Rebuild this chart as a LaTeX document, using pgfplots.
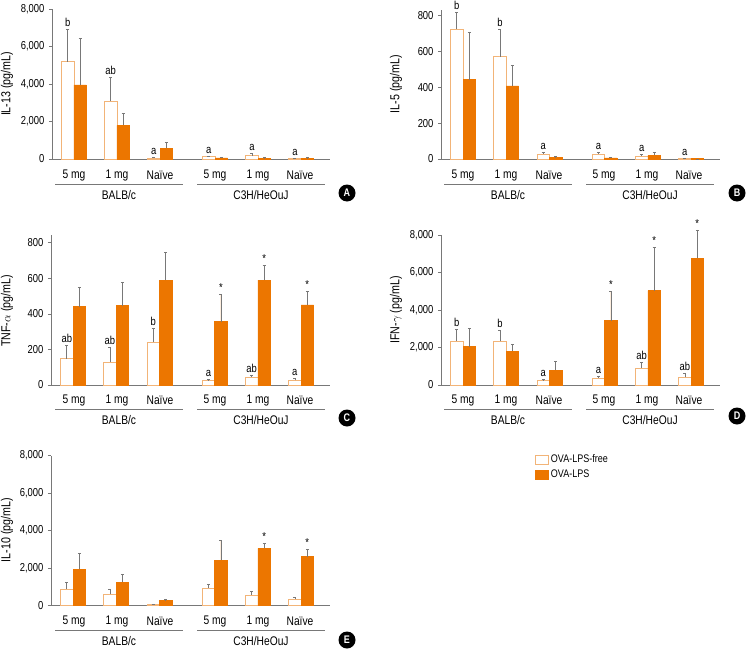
\documentclass[border=0pt]{standalone}
\usepackage{fontspec}
\setmainfont{Liberation Sans}[FakeStretch=0.82]
\usepackage{pgfplots}
\pgfplotsset{compat=1.18}
\definecolor{barorange}{RGB}{236,118,0}
\definecolor{lightorange}{RGB}{242,180,120}
\definecolor{axgray}{RGB}{120,120,120}
\pgfplotsset{
  panel/.style={
    scale only axis, ybar=0pt, bar width=12.5bp,
    xmin=0.49, xmax=6.95, ymin=0,
    axis x line*=bottom, axis y line*=left,
    axis line style={draw=axgray, line width=0.6bp, -},
    xtick=\empty,
    tick align=outside, major tick length=3bp,
    ytick style={draw=axgray, line width=0.6bp},
    tick label style={font=\fontsize{11.5bp}{13bp}\selectfont},
    yticklabel style={xshift=-1bp},
    /pgf/number format/.cd, 1000 sep={,}, assume math mode=true, /pgfplots/.cd,
    clip=false,
    error bars/y dir=plus, error bars/y explicit,
    error bars/error bar style={draw=axgray, line width=0.6bp},
    error bars/error mark options={rotate=90, mark size=1.5bp, draw=axgray, line width=0.6bp},
  },
  wbar/.style={fill=white, draw=lightorange, line width=0.7bp},
  obar/.style={fill=barorange, draw=barorange, line width=0.7bp},
}
\tikzset{lab/.style={anchor=south, inner sep=0.5bp, yshift=2bp, font=\fontsize{11.5bp}{13bp}\selectfont},
  ylab/.style={rotate=90, anchor=center, inner sep=0pt, font=\fontsize{13bp}{14bp}\selectfont}}
\newcommand{\wl}[3]{\node[lab, xshift=-6.25bp] at (axis cs:#1,#2) {#3};}
\newcommand{\ol}[3]{\node[lab, xshift=6.25bp] at (axis cs:#1,#2) {#3};}

\begin{document}
\begin{tikzpicture}
\path[use as bounding box] (0,0) rectangle (746bp,-649bp);

% ---------- Panel A: IL-13
\begin{axis}[panel, at={(52bp,-159bp)}, anchor=south west, width=278bp, height=150bp,
  ymax=8000, ytick={0,2000,4000,6000,8000}]
\addplot[wbar] table[x=x, y=y, y error=e] {
x y e
1 5200 1700
2 3070 1290
3 60 30
4.28 120 40
5.28 170 110
6.28 30 20
};
\addplot[obar] table[x=x, y=y, y error=e] {
x y e
1 3950 2490
2 1790 660
3 570 335
4.28 60 30
5.28 50 20
6.28 50 20
};
\wl{1}{6900}{b}
\wl{2}{4360}{ab}
\wl{3}{90}{a}
\wl{4.28}{160}{a}
\wl{5.28}{280}{a}
\wl{6.28}{50}{a}
\end{axis}

% ---------- Panel B: IL-5
\begin{axis}[panel, at={(441bp,-159bp)}, anchor=south west, width=279bp, height=148.7bp,
  ymax=830, ytick={0,200,400,600,800}]
\addplot[wbar] table[x=x, y=y, y error=e] {
x y e
1 724 94
2 572 152
3 28 11
4.28 28 9
5.28 17 9
6.28 3 0
};
\addplot[obar] table[x=x, y=y, y error=e] {
x y e
1 442 265
2 408 115
3 9 4
4.28 6 5
5.28 20 19
6.28 1 0
};
\wl{1}{818}{b}
\wl{2}{724}{b}
\wl{3}{39}{a}
\wl{4.28}{37}{a}
\wl{5.28}{26}{a}
\wl{6.28}{3}{a}
\end{axis}

% ---------- Panel C: TNF-alpha
\begin{axis}[panel, at={(51bp,-385bp)}, anchor=south west, width=279bp, height=150bp,
  ymax=843, ytick={0,200,400,600,800}]
\addplot[wbar] table[x=x, y=y, y error=e] {
x y e
1 148 75
2 129 81
3 240 79
4.28 24 8
5.28 43 11
6.28 26 11
};
\addplot[obar] table[x=x, y=y, y error=e] {
x y e
1 440 111
2 446 131
3 588 158
4.28 356 152
5.28 590 83
6.28 450 77
};
\wl{1}{223}{ab}
\wl{2}{210}{ab}
\wl{3}{319}{b}
\wl{4.28}{32}{a}
\wl{5.28}{54}{ab}
\wl{6.28}{37}{a}
\ol{4.28}{508}{*}
\ol{5.28}{673}{*}
\ol{6.28}{527}{*}
\end{axis}

% ---------- Panel D: IFN-gamma
\begin{axis}[panel, at={(441bp,-385bp)}, anchor=south west, width=279bp, height=150bp,
  ymax=8000, ytick={0,2000,4000,6000,8000}]
\addplot[wbar] table[x=x, y=y, y error=e] {
x y e
1 2340 630
2 2330 570
3 230 90
4.28 356 90
5.28 890 320
6.28 410 210
};
\addplot[obar] table[x=x, y=y, y error=e] {
x y e
1 2040 980
2 1810 375
3 800 445
4.28 3430 1565
5.28 5030 2310
6.28 6760 1510
};
\wl{1}{2970}{b}
\wl{2}{2900}{b}
\wl{3}{320}{a}
\wl{4.28}{446}{a}
\wl{5.28}{1210}{ab}
\wl{6.28}{620}{ab}
\ol{4.28}{4995}{*}
\ol{5.28}{7340}{*}
\ol{6.28}{8270}{*}
\end{axis}

% ---------- Panel E: IL-10
\begin{axis}[panel, at={(51bp,-605.7bp)}, anchor=south west, width=279bp, height=150bp,
  ymax=8000, ytick={0,2000,4000,6000,8000},
  legend style={at={(1.735,1.02)}, anchor=north west, draw=none, fill=none,
    font=\fontsize{11bp}{12bp}\selectfont, row sep=1.5bp, inner sep=0pt,
    cells={anchor=west}},
  legend image code/.code={\draw[#1] (0bp,-4.5bp) rectangle (13bp,4.5bp);}]
\addplot[wbar] table[x=x, y=y, y error=e] {
x y e
1 890 355
2 605 265
3 53 36
4.28 925 213
5.28 570 212
6.28 356 106
};
\addlegendentry{OVA-LPS-free}
\addplot[obar] table[x=x, y=y, y error=e] {
x y e
1 1956 835
2 1262 410
3 267 71
4.28 2436 1067
5.28 3058 267
6.28 2614 409
};
\addlegendentry{OVA-LPS}
\ol{5.28}{3325}{*}
\ol{6.28}{3023}{*}
\end{axis}

% ---------- y-axis titles
\node[ylab] at (7bp,-84bp) {IL-13 (pg/mL)};
\node[ylab] at (396bp,-84bp) {IL-5 (pg/mL)};
\node[ylab] at (7bp,-311bp) {TNF-$\alpha$ (pg/mL)};
\node[ylab] at (396bp,-310bp) {IFN-$\gamma$ (pg/mL)};
\node[ylab] at (7bp,-530bp) {IL-10 (pg/mL)};

% ---------- category labels, group brackets and panel letters
\tikzset{cat/.style={font=\fontsize{12.5bp}{14bp}\selectfont, anchor=center}}
\foreach \yy/\xo in {175/0, 175/389, 400/0, 400/389, 621/0}{
  \node[cat] at (\xo bp+74bp,-\yy bp) {5 mg};
  \node[cat] at (\xo bp+117bp,-\yy bp) {1 mg};
  \node[cat] at (\xo bp+160bp,-\yy bp) {Naïve};
  \node[cat] at (\xo bp+215bp,-\yy bp) {5 mg};
  \node[cat] at (\xo bp+258bp,-\yy bp) {1 mg};
  \node[cat] at (\xo bp+300bp,-\yy bp) {Naïve};
  \draw[axgray, line width=0.7bp] (\xo bp+55bp,-\yy bp-9bp) -- (\xo bp+183bp,-\yy bp-9bp);
  \draw[axgray, line width=0.7bp] (\xo bp+197bp,-\yy bp-9bp) -- (\xo bp+325bp,-\yy bp-9bp);
  \node[cat] at (\xo bp+119bp,-\yy bp-20bp) {BALB/c};
  \node[cat] at (\xo bp+261bp,-\yy bp-20bp) {C3H/HeOuJ};
}
\tikzset{let/.style={circle, fill=black, text=white, inner sep=0pt, minimum size=17bp, font=\fontsize{11bp}{12bp}\selectfont\bfseries}}
\node[let] at (347bp,-193bp) {A};
\node[let] at (737bp,-193bp) {B};
\node[let] at (347bp,-418bp) {C};
\node[let] at (737bp,-416bp) {D};
\node[let] at (347bp,-640bp) {E};
\end{tikzpicture}
\end{document}
